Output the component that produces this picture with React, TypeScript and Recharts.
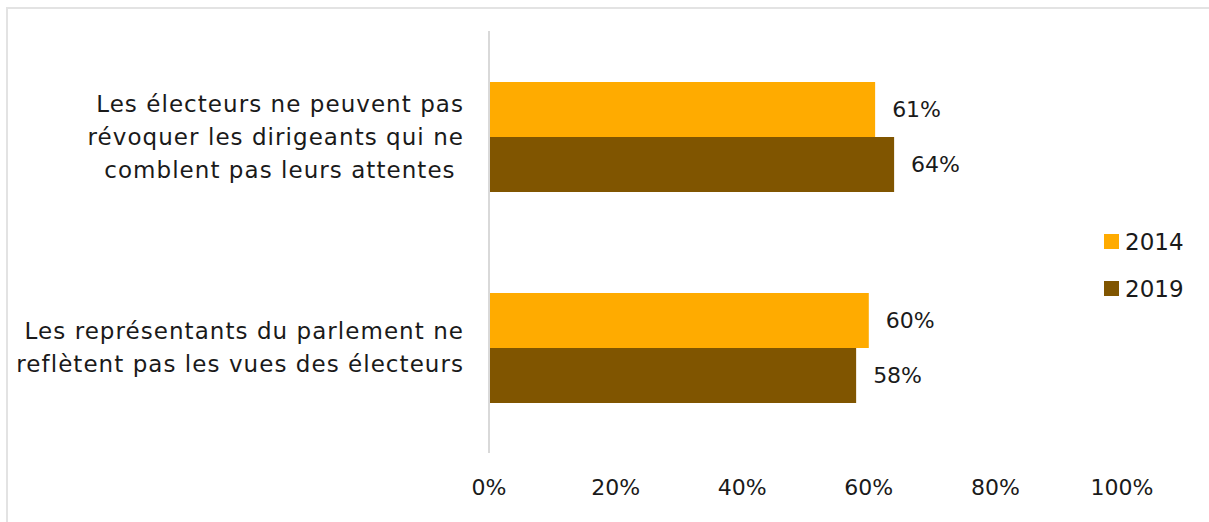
import React from 'react';
import { BarChart, Bar, XAxis, YAxis, Legend, LabelList } from 'recharts';

const categories = [
  ['Les électeurs ne peuvent pas', 'révoquer les dirigeants qui ne', 'comblent pas leurs attentes\u00a0'],
  ['Les représentants du parlement ne', 'reflètent pas les vues des électeurs'],
];
const values2014 = [0.61, 0.6];
const values2019 = [0.64, 0.58];
const xTicks = [0, 0.2, 0.4, 0.6, 0.8, 1];

const FONT = '"DejaVu Sans", Lato, sans-serif';
const COLOR_2014 = '#FFAB00';
const COLOR_2019 = '#805500';
const TEXT = '#1a1a1a';

const data = categories.map((lines, i) => ({
  name: lines.join('|'),
  y2014: values2014[i],
  y2019: values2019[i],
}));

const pct = (v: number) => `${Math.round(v * 100)}%`;

const YTick = (props: any) => {
  const { x, y, payload } = props;
  const lines: string[] = String(payload.value).split('|');
  const lh = 33;
  const start = y - ((lines.length - 1) * lh) / 2;
  return (
    <text x={x + 1} y={start} textAnchor="end" fontFamily={FONT} fontSize={23} letterSpacing={1.05} fill={TEXT}>
      {lines.map((l, i) => (
        <tspan key={i} x={x + 1} y={start + i * lh} dominantBaseline="central">
          {l}
        </tspan>
      ))}
    </text>
  );
};

const XTick = (props: any) => {
  const { x, y, payload } = props;
  return (
    <text x={x} y={y + 26} textAnchor="middle" dominantBaseline="central" fontFamily={FONT} fontSize={22} fill={TEXT}>
      {pct(payload.value)}
    </text>
  );
};

const LegendContent = (props: any) => {
  const { payload } = props;
  return (
    <div style={{ fontFamily: FONT, fontSize: 23, color: TEXT }}>
      {payload.map((p: any, i: number) => (
        <div key={i} style={{ display: 'flex', alignItems: 'center', height: 47 }}>
          <span style={{ display: 'inline-block', width: 15, height: 15, background: p.color, marginRight: 6 }} />
          <span>{p.value}</span>
        </div>
      ))}
    </div>
  );
};

export default function App() {
  return (
    <div style={{ position: 'relative', width: 1209, height: 522, overflow: 'hidden', background: '#fff' }}>
      <style>{`body{margin:0}`}</style>
      <div
        style={{
          position: 'absolute',
          left: 6,
          top: 7,
          width: 1260,
          height: 560,
          border: '2px solid #e3e3e3',
          boxSizing: 'border-box',
        }}
      />
      <div style={{ position: 'absolute', left: 0, top: 0 }}>
        <BarChart
          width={1209}
          height={522}
          data={data}
          layout="vertical"
          margin={{ top: 31, right: 87, bottom: 0, left: 0 }}
          barGap={0}
        >
          <XAxis
            type="number"
            domain={[0, 1]}
            ticks={xTicks}
            axisLine={false}
            tickLine={false}
            height={69}
            tick={<XTick />}
            interval={0}
          />
          <YAxis
            type="category"
            dataKey="name"
            width={489}
            axisLine={{ stroke: '#d9d9d9', strokeWidth: 2 }}
            tickLine={false}
            tickSize={0}
            tickMargin={26}
            tick={<YTick />}
            interval={0}
          />
          <Legend
            layout="vertical"
            align="center"
            verticalAlign="middle"
            wrapperStyle={{ left: 1104, top: 218 }}
            content={<LegendContent />}
          />
          <Bar dataKey="y2014" name="2014" fill={COLOR_2014} barSize={55} isAnimationActive={false}>
            <LabelList
              dataKey="y2014"
              position="right"
              offset={17}
              formatter={(v: any) => pct(Number(v))}
              style={{ fontFamily: FONT, fontSize: 22, fill: TEXT }}
            />
          </Bar>
          <Bar dataKey="y2019" name="2019" fill={COLOR_2019} barSize={55} isAnimationActive={false}>
            <LabelList
              dataKey="y2019"
              position="right"
              offset={17}
              formatter={(v: any) => pct(Number(v))}
              style={{ fontFamily: FONT, fontSize: 22, fill: TEXT }}
            />
          </Bar>
        </BarChart>
      </div>
    </div>
  );
}
